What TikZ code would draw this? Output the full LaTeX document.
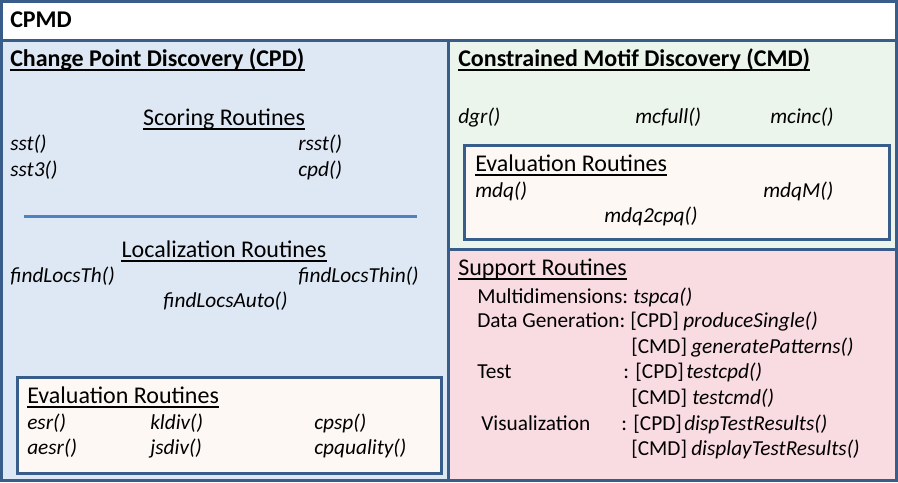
\documentclass[tikz,border=0pt]{standalone}
\usepackage{fontspec}
\setmainfont{Carlito}
\usetikzlibrary{calc}
\definecolor{bordc}{HTML}{385D8A}
\definecolor{linec}{HTML}{4F81BD}
\definecolor{bluef}{HTML}{DEE8F4}
\definecolor{greenf}{HTML}{EBF5EC}
\definecolor{pinkf}{HTML}{F9DBE2}
\definecolor{creamf}{HTML}{FDF8F4}
\tikzset{
  panel/.style={draw=bordc, line width=2.25pt},
  big/.style={anchor=base west, inner sep=0pt, font=\fontsize{18}{22}\selectfont},
  hb/.style={anchor=base west, inner sep=0pt, font=\fontsize{18}{22}\selectfont\bfseries},
  fn/.style={anchor=base west, inner sep=0pt, font=\fontsize{16}{19}\selectfont\itshape},
  tx/.style={anchor=base west, inner sep=0pt, font=\fontsize{16}{19}\selectfont},
  ulb/.style={line width=1.5pt},
  ulr/.style={line width=1.1pt},
}
\newcommand{\ulthis}[2]{\draw[#1] ([yshift=-3pt]#2.base west) -- ([yshift=-3pt]#2.base east);}
\begin{document}
\begin{tikzpicture}[x=0.75pt,y=-0.75pt]
\useasboundingbox (0,0) rectangle (898,482);
% panels
\fill[white] (0,0) rectangle (898,40);
\fill[bluef] (0,40) rectangle (448,482);
\fill[greenf] (448,40) rectangle (898,249);
\fill[pinkf] (448,249) rectangle (898,482);
\draw[panel] (1.5,1.5) rectangle (896.5,480.5);
\draw[panel] (1.5,40) -- (896.5,40);
\draw[panel] (448,40) -- (448,480.5);
\draw[panel] (448,249) -- (896.5,249);
\draw[panel, fill=creamf] (17,377) rectangle (441,473);
\draw[panel, fill=creamf] (464.5,145) rectangle (889,239);
% title
\node[hb] (cpmd) at (10,27) {CPMD};
% left panel
\node[hb] (cpdh) at (10,66) {Change Point Discovery (CPD)};
\ulthis{ulb}{cpdh}
\node[big, anchor=base] (score) at (224,125) {Scoring Routines};
\ulthis{ulr}{score}
\node[fn] (sst) at (10,150) {sst()};
\node[fn] (rsst) at (298,150) {rsst()};
\node[fn] (sst3) at (10,176) {sst3()};
\node[fn] (cpd) at (298,176) {cpd()};
\coordinate (sepl) at (24,216);
\coordinate (sepr) at (416.5,216);
\draw[linec, line width=2.25pt] (sepl) -- (sepr);
\node[big, anchor=base] (loc) at (224,257) {Localization Routines};
\ulthis{ulr}{loc}
\node[fn] (flth) at (10,282) {findLocsTh()};
\node[fn] (flthin) at (298,282) {findLocsThin()};
\node[fn] (flauto) at (163,307) {findLocsAuto()};
\node[big] (evl) at (27,403) {Evaluation Routines};
\ulthis{ulr}{evl}
\node[fn] (esr) at (27,429) {esr()};
\node[fn] (kldiv) at (150,429) {kldiv()};
\node[fn] (cpsp) at (314,429) {cpsp()};
\node[fn] (aesr) at (27,454) {aesr()};
\node[fn] (jsdiv) at (150,454) {jsdiv()};
\node[fn] (cpq) at (314,454) {cpquality()};
% right top
\node[hb] (cmdh) at (458,66) {Constrained Motif Discovery (CMD)};
\ulthis{ulb}{cmdh}
\node[fn] (dgr) at (458,123) {dgr()};
\node[fn] (mcfull) at (635,123) {mcfull()};
\node[fn] (mcinc) at (770,123) {mcinc()};
\node[big] (evr) at (475,171) {Evaluation Routines};
\ulthis{ulr}{evr}
\node[fn] (mdq) at (475,197) {mdq()};
\node[fn] (mdqm) at (763,197) {mdqM()};
\node[fn] (mdq2) at (604,222) {mdq2cpq()};
% right bottom
\node[big] (sup) at (458,275) {Support Routines};
\ulthis{ulr}{sup}
\node[tx] (md) at (477,303) {Multidimensions:};
\node[fn] (tspca) at (633,303) {tspca()};
\node[tx] (dg) at (477,327.5) {Data Generation:};
\node[tx] (dgc) at (630,327.5) {[CPD]};
\node[fn] (ps) at (683,327.5) {produceSingle()};
\node[tx] (dgm) at (631,353) {[CMD]};
\node[fn] (gp) at (691,353) {generatePatterns()};
\node[tx] (te) at (477,378.5) {Test};
\node[tx] (tec) at (623,378.5) {: [CPD]};
\node[fn] (tcpd) at (686,378.5) {testcpd()};
\node[tx] (tem) at (631,404) {[CMD]};
\node[fn] (tcmd) at (692,404) {testcmd()};
\node[tx] (vi) at (481,430) {Visualization};
\node[tx] (vic) at (621,430) {: [CPD]};
\node[fn] (dtr) at (684,430) {dispTestResults()};
\node[tx] (vim) at (631,455.5) {[CMD]};
\node[fn] (dstr) at (691,455.5) {displayTestResults()};
\end{tikzpicture}
\end{document}
